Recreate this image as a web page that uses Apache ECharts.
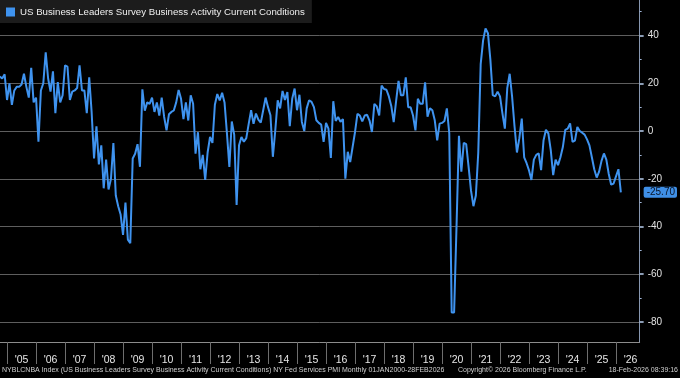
<!DOCTYPE html>
<html><head><meta charset="utf-8">
<script src="https://cdn.jsdelivr.net/npm/echarts@6/dist/echarts.min.js"></script>
<style>html,body{margin:0;padding:0;background:#000;}#c{width:680px;height:378px;}</style>
</head><body><div id="c"></div>
<script>
const seriesName = 'US Business Leaders Survey Business Activity Current Conditions';
// monthly values, first value = September 2004, plotted at month end
const startYear = 2004;
const startMonth = 9;
const values2004_2009 = [
  22.8, 22, 23.8, 13,
  20, 11, 17, 18.5, 18.5, 19.5, 24, 18.5, 14, 26.5, 12, 14,
  -4.5, 17, 20, 33, 22, 16.5, 25, 7.5, 20.5, 12, 15, 27.5,
  27, 13, 16.5, 17, 18, 27.5, 17, 17, 7.5, 22.5, 8, -11.5,
  2, -14, -6, -24, -12, -24.5, -20, -5, -27, -31.5, -35, -43.5,
  -30, -45.5, -47, -11.5, -9.5, -5.5, -15, 17.5, 8.5, 12, 11.4, 14
];
const values2010_2014 = [
  8, 12, 6.5, 14, 6, 0.3, 7, 8, 8.6, 12, 17.2, 13.5,
  5, 12, 4.4, 15, 11.4, -9.5, -0.5, -16, -10, -20.5, -9, -2.5,
  -5, 11, 15.5, 12.8, 16, 12, -1, -15, 4, -1.5, -31, -6,
  -2.5, -4.5, -3, 3, 8.7, 3, 7.3, 4.8, 3.5, 8.7, 14, 10,
  6.6, -10.8, 0.3, 12.9, 9.5, 16.8, 13, 16.3, 2, 13.5, 17.8, 8.7
];
const values2015_2019 = [
  15.2, 3.8, 0, 9.5, 12.9, 12.2, 10, 4.5, 3.4, 2.7, -4.5, 3.4,
  1, -11.3, 12.5, 4.2, 5.9, 3.9, 5, -20, -8.7, -13, -6.7, -0.4,
  7.2, 6.5, 4, 6.5, 6.8, 4.4, -0.4, 11.4, 10.3, 6.5, 19, 17.6,
  17.3, 14.5, 10.5, 3.7, 12.5, 21, 15, 15, 22.5, 10, 10, 6.5,
  0.3, 13.5, 11.4, 11.4, 20.4, 6, 9.5, 8.7, 4.5, -3.9, 3.1, 3.4
];
const values2020_2026 = [
  4.2, 9.5, -1, -76, -76, -40, -2, -17, -5, -5.5, -15, -25,
  -31.5, -27, -9, 28, 38, 43, 41, 30, 15, 14.5, 16.5, 14.5,
  7.4, 1, 18, 24, 14.4, 2, -9, -3, 5.2, -11, -13.5, -16.5,
  -20.5, -12, -10, -9.4, -16.4, -4, 0.5, -1, -8, -18.5, -12, -14.3,
  -11, -6.7, 0.5, 1, 3.2, -4.5, -4, 1.7, 0, -0.7, -1.5, -3.5,
  -6, -11, -16, -19.5, -17, -12.5, -9.4, -12, -18, -22.5, -22, -19,
  -16, -25.7
];
const yearTicks = [2005,2006,2007,2008,2009,2010,2011,2012,2013,2014,2015,2016,2017,2018,2019,2020,2021,2022,2023,2024,2025,2026];
const yTicks = [-80, -60, -40, -20, 0, 20, 40];
const yMinorTicks = [-70, -50, -30, -10, 10, 30, 50];
const footerLeft = 'NYBLCNBA Index (US Business Leaders Survey Business Activity Current Conditions) NY Fed Services PMI Monthly 01JAN2000-28FEB2026';
const footerMid = 'Copyright\u00A9 2026 Bloomberg Finance L.P.';
const footerRight = '18-Feb-2026 08:39:16';

const allValues = [].concat(values2004_2009, values2010_2014, values2015_2019, values2020_2026);
const data = allValues.map((v, i) => {
  const idx = startYear * 12 + (startMonth - 1) + i; // month index
  return [(idx + 1) / 12, v]; // month end in fractional years
});
const lastValue = allValues[allValues.length - 1];
const yearMids = yearTicks.map(y => y + 0.5);

const X_MIN = 2004.757, X_MAX = 2026.815;
const Y_MIN = -88.4, Y_MAX = 54.9;
const FONT = 'Liberation Sans, Arial, sans-serif';

const chart = echarts.init(document.getElementById('c'));
chart.setOption({
  backgroundColor: '#000000',
  animation: false,
  textStyle: { fontFamily: FONT },
  grid: { left: 0, right: 36, top: 0, bottom: 36, containLabel: false },
  legend: {
    data: [seriesName], left: 0, top: 0, icon: 'rect', itemWidth: 9, itemHeight: 9,
    padding: [7, 7, 6, 6], backgroundColor: '#1c1c1c',
    textStyle: { color: '#eeeeee', fontSize: 9.7, fontFamily: FONT }
  },
  xAxis: {
    type: 'value', min: X_MIN, max: X_MAX,
    axisLine: { show: true, onZero: false, lineStyle: { color: '#8c8c8c', width: 1 } },
    axisTick: { show: true, customValues: yearTicks, length: 22, lineStyle: { color: '#6e6e6e' } },
    axisLabel: { customValues: yearMids, color: '#e6e6e6', fontSize: 10.5, margin: 13, fontFamily: FONT,
      formatter: v => "'" + String(Math.floor(v) % 100).padStart(2, '0') },
    splitLine: { show: false }
  },
  yAxis: [
    {
      type: 'value', position: 'right', min: Y_MIN, max: Y_MAX,
      axisLine: { show: true, lineStyle: { color: '#8797b0', width: 1 } },
      axisTick: { show: true, customValues: yTicks, length: 4, lineStyle: { color: '#b9d0f0', width: 1.5 } },
      axisLabel: { customValues: yTicks, color: '#e2e2e2', fontSize: 10, margin: 8, fontFamily: FONT },
      splitLine: { show: true, lineStyle: { color: '#5e5e5e', width: 1 } }
    },
    {
      type: 'value', position: 'right', min: Y_MIN, max: Y_MAX,
      axisLine: { show: false },
      axisTick: { show: true, customValues: yMinorTicks, length: 2, lineStyle: { color: '#9fb4d6' } },
      axisLabel: { show: false },
      splitLine: { show: false }
    },
    {
      type: 'value', position: 'right', min: Y_MIN, max: Y_MAX,
      axisLine: { show: false }, axisTick: { show: false }, splitLine: { show: false },
      axisLabel: { customValues: [lastValue], formatter: v => v.toFixed(2), color: '#0a1426',
        backgroundColor: '#3f8fe6', padding: [1, 2, 0, 3], borderRadius: 2, fontSize: 10, margin: 4, fontFamily: FONT }
    }
  ],
  series: [{
    name: seriesName, type: 'line', data: data, showSymbol: false, symbol: 'none',
    color: '#3f93ef', lineStyle: { color: '#3f93ef', width: 2 }, clip: true, z: 5
  }],
  graphic: [
    { type: 'text', left: 2, top: 367, style: { text: footerLeft, fill: '#d0d0d0', font: '7px ' + FONT } },
    { type: 'text', left: 458, top: 367, style: { text: footerMid, fill: '#d0d0d0', font: '7px ' + FONT } },
    { type: 'text', right: 2, top: 367, style: { text: footerRight, fill: '#d0d0d0', font: '7px ' + FONT } }
  ]
});
</script></body></html>
